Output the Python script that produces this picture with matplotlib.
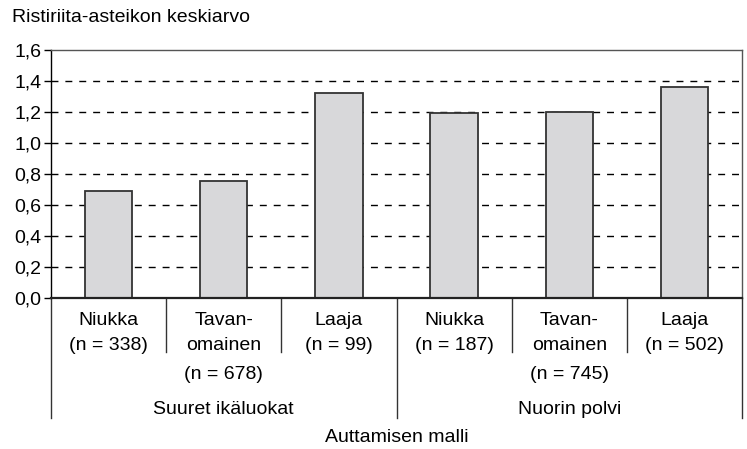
import matplotlib.pyplot as plt
from matplotlib.transforms import blended_transform_factory

plt.rcParams['font.family'] = ['Liberation Sans', 'DejaVu Sans']
FS = 14

# keskiarvot kuudelle ryhmälle
models = ['Niukka', 'Tavan-\nomainen', 'Laaja', 'Niukka', 'Tavan-\nomainen', 'Laaja']
counts = [338, 678, 99, 187, 745, 502]
means = [0.69, 0.75, 1.32, 1.19, 1.20, 1.36]
groups = ['Suuret ikäluokat', 'Nuorin polvi']

fig = plt.figure(figsize=(7.47, 4.49), dpi=100)
ax = fig.add_axes([0.0683, 0.3374, 0.925, 0.5512])

x = list(range(len(means)))
ax.bar(x, means, width=0.41, color='#d8d8da', edgecolor='#333333', linewidth=1.3, zorder=3)

ax.set_xlim(-0.5, len(means) - 0.5)
ax.set_ylim(0, 1.6)
ax.set_yticks([i * 0.2 for i in range(9)])
ax.set_yticklabels([f'{i * 0.2:.1f}'.replace('.', ',') for i in range(9)], fontsize=FS)
ax.tick_params(axis='y', length=5, width=1, color='black', pad=2)
ax.set_xticks([])

for yv in [i * 0.2 for i in range(1, 8)]:
    ax.axhline(yv, color='black', linestyle=(0, (5, 5)), linewidth=1, zorder=1)

for side in ['top', 'right']:
    ax.spines[side].set_color('#555555')
    ax.spines[side].set_linewidth(1)
ax.spines['left'].set_color('black')
ax.spines['left'].set_linewidth(1)
ax.spines['bottom'].set_color('#222222')
ax.spines['bottom'].set_linewidth(1.6)
ax.spines['bottom'].set_zorder(4)

trans = blended_transform_factory(ax.transData, ax.transAxes)

# luokkien nimet ja n
for xi, m, n in zip(x, models, counts):
    lines = m.split('\n') + [f'(n = {n})']
    ys = [-0.093, -0.193, -0.31]
    for line, yy in zip(lines, ys):
        ax.text(xi, yy, line, transform=trans, ha='center', va='center', fontsize=FS)

# erotinviivat akselin alla
for b in [0.5, 1.5, 3.5, 4.5]:
    ax.plot([b, b], [0, -0.22], transform=trans, color='#333333', lw=1, clip_on=False)
for b in [-0.5, 2.5, 5.5]:
    ax.plot([b, b], [0, -0.487], transform=trans, color='#333333', lw=1, clip_on=False)

for gi, g in enumerate(groups):
    ax.text(gi * 3 + 1, -0.453, g, transform=trans, ha='center', va='center', fontsize=FS)

ax.text(2.5, -0.565, 'Auttamisen malli', transform=trans, ha='center', va='center', fontsize=FS)
fig.text(12 / 747, 1 - 17 / 449, 'Ristiriita-asteikon keskiarvo', ha='left', va='center', fontsize=FS)

fig.savefig('out.png', dpi=100)
